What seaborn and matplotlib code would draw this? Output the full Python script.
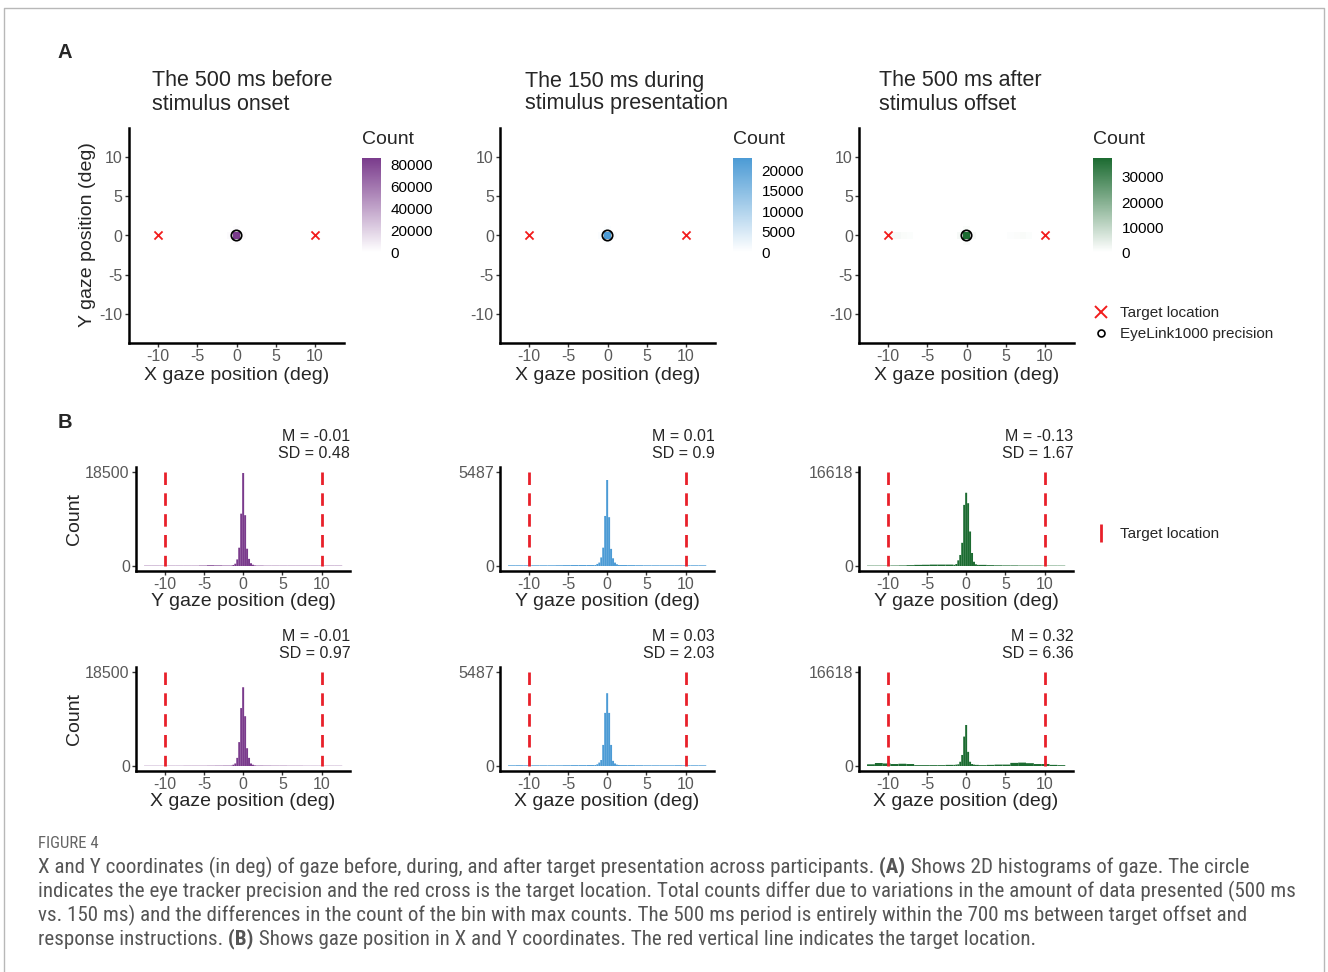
import numpy as np
import matplotlib
matplotlib.use("Agg")
import matplotlib.pyplot as plt
import seaborn as sns
from matplotlib import font_manager
from matplotlib.colors import LinearSegmentedColormap
from matplotlib.lines import Line2D

sns.set_theme(style="white")
plt.rcParams['font.family'] = ['Liberation Sans', 'DejaVu Sans']
plt.rcParams['axes.unicode_minus'] = False

W, H = 1328, 972

# ---------------- data ----------------
titles = [("The 500 ms before", "stimulus onset"),
          ("The 150 ms during", "stimulus presentation"),
          ("The 500 ms after", "stimulus offset")]
fills = ["#7A3B8C", "#4C9BD5", "#1C6B31"]

targets_x = [-10, 10]
targets_y = [0, 0]

# panel A: 2D histogram cells (deg) and counts
before_cell_x = [0.0, -0.8, 0.8, 0.0, 0.0]
before_cell_y = [0.0, 0.0, 0.0, -0.8, 0.8]
before_cell_n = [86400, 2600, 2200, 1400, 1700]
during_cell_x = [0.0, -0.8, 0.8, 0.0, 0.0]
during_cell_y = [0.0, 0.0, 0.0, -0.8, 0.8]
during_cell_n = [23000, 700, 650, 400, 450]
after_cell_x = [0.0, -0.8, 0.8, 0.0, 0.0, -9.6, -8.8, -8.0, -7.2, 5.6, 6.4, 7.2, 8.0]
after_cell_y = [0.0, 0.0, 0.0, -0.8, 0.8, 0.0, 0.0, 0.0, 0.0, 0.0, 0.0, 0.0, 0.0]
after_cell_n = [37600, 1500, 1300, 800, 900, 1100, 1500, 1000, 600, 500, 800, 1100, 700]
count_max = [86400, 23000, 37600]
count_ticks = [[0, 20000, 40000, 60000, 80000],
               [0, 5000, 10000, 15000, 20000],
               [0, 10000, 20000, 30000]]

# panel B: 1D histograms; 11 wide left bins, 13 narrow central bins, 11 wide right bins
y_before = [60, 60, 60, 60, 60, 60, 60, 90, 150, 120, 90,
            100, 200, 450, 1300, 3600, 10300, 18300, 10000, 3400, 1400, 550, 250, 120,
            80, 60, 60, 60, 60, 60, 60, 60, 60, 60, 60]
x_before = [40, 40, 40, 40, 40, 50, 50, 50, 60, 70, 80,
            100, 250, 500, 1600, 4700, 11400, 15500, 9800, 3500, 1600, 500, 250, 120,
            80, 70, 60, 60, 50, 50, 40, 40, 40, 40, 40]
y_during = [40, 40, 40, 40, 40, 40, 45, 50, 55, 55, 55,
            60, 120, 200, 500, 1070, 2920, 5020, 2850, 1000, 450, 200, 100, 60,
            55, 50, 45, 40, 40, 40, 40, 40, 40, 40, 40]
x_during = [40, 45, 40, 40, 40, 40, 40, 45, 50, 50, 55,
            60, 100, 200, 350, 1230, 3100, 4250, 3100, 1230, 300, 150, 80, 60,
            50, 50, 45, 40, 40, 40, 40, 45, 40, 40, 40]
y_after = [60, 60, 60, 80, 100, 150, 200, 220, 250, 250, 250,
           200, 350, 1000, 1950, 4100, 10800, 12950, 11100, 6100, 2300, 750, 300, 200,
           200, 150, 120, 100, 100, 80, 80, 80, 60, 60, 60]
x_after = [300, 530, 450, 350, 400, 350, 150, 150, 150, 150, 200,
           200, 250, 300, 750, 1950, 5200, 7250, 2500, 750, 350, 250, 200, 200,
           150, 200, 250, 250, 550, 600, 500, 350, 350, 200, 150]
hist_max = [18500, 5487, 16618]
y_stats = [("M = -0.01", "SD = 0.48"), ("M = 0.01", "SD = 0.9"), ("M = -0.13", "SD = 1.67")]
x_stats = [("M = -0.01", "SD = 0.97"), ("M = 0.03", "SD = 2.03"), ("M = 0.32", "SD = 6.36")]

cells = [(before_cell_x, before_cell_y, before_cell_n),
         (during_cell_x, during_cell_y, during_cell_n),
         (after_cell_x, after_cell_y, after_cell_n)]
y_hists = [y_before, y_during, y_after]
x_hists = [x_before, x_during, x_after]

edges2d = list(np.arange(-12.4, 12.41, 0.8))
edges1d = np.concatenate([np.arange(-12.625, -1.62, 1.0)[:-1],
                          np.arange(-1.625, 1.626, 0.25),
                          np.arange(2.625, 12.626, 1.0)])
centres1d = (edges1d[:-1] + edges1d[1:]) / 2

# ---------------- figure ----------------
fig = plt.figure(figsize=(W / 100, H / 100), dpi=100)


def fx(px):
    return px / W


def fy(py):
    return 1 - py / H


TICK_GRAY = "#595959"


def style_axes(ax):
    sns.despine(ax=ax)
    for s in ("left", "bottom"):
        ax.spines[s].set_color("black")
        ax.spines[s].set_linewidth(1.8)
    ax.tick_params(left=True, bottom=True, length=3, width=1, color="#333333",
                   labelcolor=TICK_GRAY, labelsize=11.5, pad=1.5)
    ax.set_facecolor("none")
    ax.grid(False)
    ax.set_xlabel("")
    ax.set_ylabel("")


# outer frame
fig.add_artist(Line2D([fx(4), fx(4), fx(1324), fx(1324)], [0, fy(8), fy(8), 0],
                      transform=fig.transFigure, color="#b8b8b8", lw=1))

fig.text(fx(58), fy(53), "A", fontsize=14.5, fontweight="bold", va="center")
fig.text(fx(58), fy(422), "B", fontsize=14.5, fontweight="bold", va="center")

# ---- panel A ----
a_left = [129, 500, 859]
cb_left = [362, 733, 1093]
title_x = [152, 525, 879]
for i in range(3):
    ax = fig.add_axes([fx(a_left[i]), fy(343), 215 / W, 215 / H])
    cax = fig.add_axes([fx(cb_left[i]), fy(252), 19 / W, 94 / H])
    cmap = LinearSegmentedColormap.from_list("c%d" % i, ["#ffffff", fills[i]])
    cx, cy, cn = cells[i]
    sns.histplot(x=cx, y=cy, weights=cn, bins=[edges2d, edges2d], cmap=cmap,
                 vmin=0, vmax=count_max[i], cbar=True, cbar_ax=cax, ax=ax)
    ax.scatter(targets_x, targets_y, marker="x", color="#f21c1c", s=34,
               linewidths=1.3, zorder=3, label="Target location")
    ax.scatter([0], [0], marker="o", facecolors="none", edgecolors="black", s=55,
               linewidths=1.3, zorder=4, label="EyeLink1000 precision")
    ax.set_xlim(-13.7, 13.7)
    ax.set_ylim(-13.7, 13.7)
    ax.set_xticks([-10, -5, 0, 5, 10])
    ax.set_yticks([-10, -5, 0, 5, 10])
    style_axes(ax)

    fig.text(fx(title_x[i]), fy(81), titles[i][0], fontsize=15.5, va="center")
    fig.text(fx(title_x[i]), fy(104), titles[i][1], fontsize=15.5, va="center")
    fig.text(fx(a_left[i] + 107.5), fy(375), "X gaze position (deg)", fontsize=14,
             ha="center", va="center")

    # colourbar styling
    for s in cax.spines.values():
        s.set_visible(False)
    cax.set_yticks(count_ticks[i])
    cax.tick_params(axis="y", left=True, right=True, labelleft=False, labelright=True,
                    direction="in", length=4, width=1, color="white",
                    labelcolor="black", labelsize=11, pad=7)
    fig.text(fx(cb_left[i]), fy(140), "Count", fontsize=14, va="center")

fig.text(fx(88), fy(235), "Y gaze position (deg)", fontsize=14, rotation=90,
         ha="center", va="center")

h_a, l_a = ax.get_legend_handles_labels()
fig.legend([Line2D([], [], marker="x", color="#f21c1c", ls="", markersize=9, mew=1.4),
            Line2D([], [], marker="o", mfc="none", mec="black", ls="", markersize=5, mew=1.2)],
           l_a, loc="upper left", bbox_to_anchor=(fx(1093), fy(306)), frameon=False,
           fontsize=11, handlelength=1.0, handletextpad=0.8, labelspacing=0.45,
           borderpad=0, borderaxespad=0)

# ---- panel B ----
b_left = [136, 500, 859]
b_bottom = [570.7, 770.7]
b_xlabel = ["Y gaze position (deg)", "X gaze position (deg)"]
for r, (hists, stats) in enumerate([(y_hists, y_stats), (x_hists, x_stats)]):
    for i in range(3):
        ax = fig.add_axes([fx(b_left[i]), fy(b_bottom[r]), 214.3 / W, 103.4 / H])
        sns.histplot(x=centres1d, weights=hists[i], bins=list(edges1d), stat="count",
                     color=fills[i], alpha=1, linewidth=0, edgecolor=fills[i],
                     snap=False, ax=ax)
        for t in targets_x:
            ax.plot([t, t], [hist_max[i], 0], color="#e8202a", lw=2, dashes=(4.5, 3),
                    zorder=3)
        ax.set_xlim(-13.65, 13.65)
        ax.set_ylim(-0.05 * hist_max[i], 1.05 * hist_max[i])
        ax.set_xticks([-10, -5, 0, 5, 10])
        ax.set_yticks([0, hist_max[i]])
        style_axes(ax)
        right = b_left[i] + 214.3
        top = b_bottom[r] - 103.4
        fig.text(fx(right), fy(top - 31), stats[i][0], fontsize=11.5, ha="right", va="center")
        fig.text(fx(right), fy(top - 14), stats[i][1], fontsize=11.5, ha="right", va="center")
        fig.text(fx(b_left[i] + 107), fy(b_bottom[r] + 31), b_xlabel[r], fontsize=14,
                 ha="center", va="center")
    fig.text(fx(75), fy(b_bottom[r] - 52), "Count", fontsize=14, rotation=90,
             ha="center", va="center")

fig.legend([Line2D([], [], marker="|", color="#e8202a", ls="", markersize=13, mew=2)],
           ["Target location"], loc="upper left", bbox_to_anchor=(fx(1093), fy(527)),
           frameon=False, fontsize=11, handlelength=1.0, handletextpad=0.8,
           borderpad=0, borderaxespad=0)

# ---- caption ----
cap_family = "Liberation Sans"
for fam in ["Liberation Sans Narrow", "Roboto Condensed", "Open Sans Condensed"]:
    try:
        font_manager.findfont(font_manager.FontProperties(family=fam), fallback_to_default=False)
        cap_family = fam
        break
    except ValueError:
        pass

cap_color = "#555555"
caption_lines = [
    [("X and Y coordinates (in deg) of gaze before, during, and after target presentation across participants.", "normal"),
     (" (A)", "bold"), (" Shows 2D histograms of gaze. The circle", "normal")],
    [("indicates the eye tracker precision and the red cross is the target location. Total counts differ due to variations in the amount of data presented (500 ms", "normal")],
    [("vs. 150 ms) and the differences in the count of the bin with max counts. The 500 ms period is entirely within the 700 ms between target offset and", "normal")],
    [("response instructions.", "normal"), (" (B)", "bold"),
     (" Shows gaze position in X and Y coordinates. The red vertical line indicates the target location.", "normal")],
]
renderer = fig.canvas.get_renderer()
probe = fig.text(0, 0, caption_lines[1][0][0], fontsize=12, family=cap_family)
cap_size = 12 * 1256 / probe.get_window_extent(renderer).width
probe.remove()

fig.text(fx(38), fy(843), "FIGURE 4", fontsize=cap_size * 0.8, family=cap_family,
         color="#666666", va="center")
for k, runs in enumerate(caption_lines):
    x = 38
    for txt, weight in runs:
        t = fig.text(fx(x), fy(867 + 24 * k), txt, fontsize=cap_size, fontweight=weight,
                     family=cap_family, color=cap_color, va="center")
        x += t.get_window_extent(renderer).width

fig.savefig("out.png", dpi=100)
